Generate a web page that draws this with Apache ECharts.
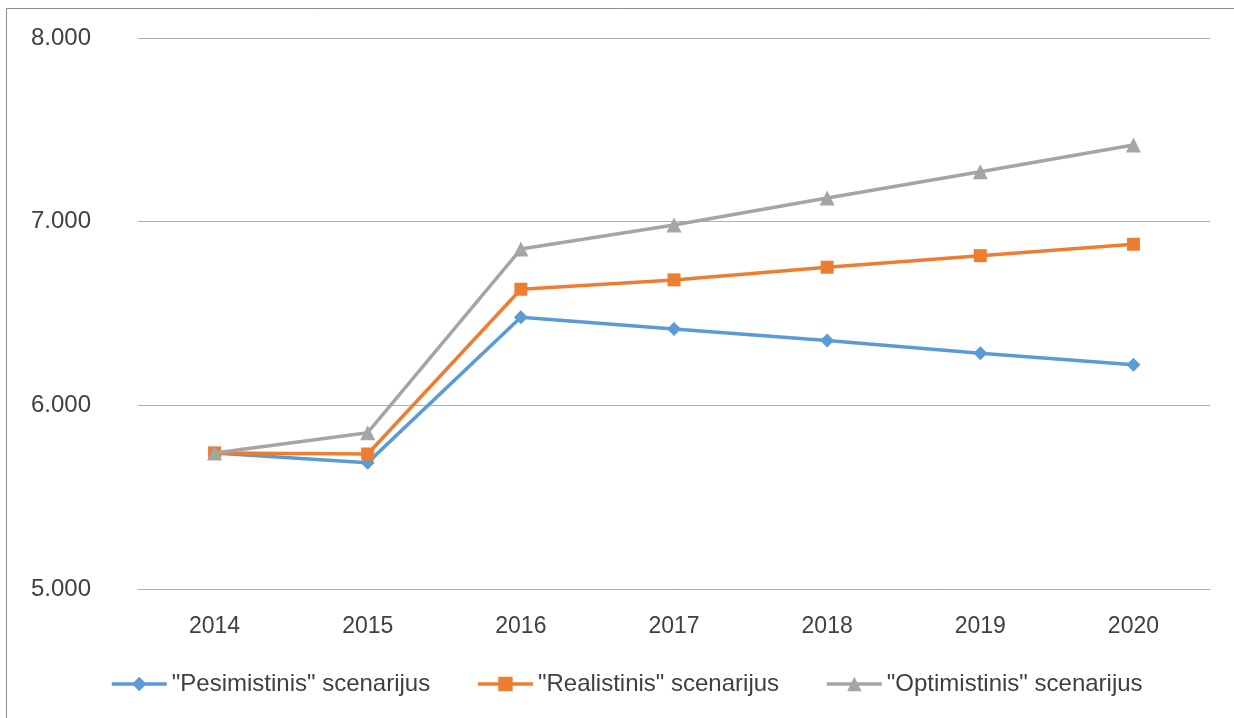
<!DOCTYPE html>
<html>
<head>
<meta charset="utf-8">
<script src="https://cdn.jsdelivr.net/npm/echarts@6/dist/echarts.min.js"></script>
<style>
html,body{margin:0;padding:0;background:#fff;}
#c{width:1234px;height:718px;}
</style>
</head>
<body>
<div id="c"></div>
<script>
const categories = ['2014','2015','2016','2017','2018','2019','2020'];
const pesimistinis = [5741, 5688, 6480, 6415, 6353, 6284, 6221];
const realistinis = [5741, 5735, 6632, 6683, 6752, 6815, 6877];
const optimistinis = [5741, 5851, 6851, 6982, 7129, 7272, 7417];
const seriesNames = ['"Pesimistinis" scenarijus', '"Realistinis" scenarijus', '"Optimistinis" scenarijus'];
const yTicks = { min: 5000, max: 8000, interval: 1000 };

const font = 'Liberation Sans';
const textColor = '#404040';

function fmt(v){ return String(v).replace(/\B(?=(\d{3})+(?!\d))/g, '.'); }

const chart = echarts.init(document.getElementById('c'), null, {renderer:'canvas'});
chart.setOption({
  animation: false,
  backgroundColor: '#fff',
  graphic: [{
    type: 'rect', shape: {x: 6.5, y: 8.5, width: 1250, height: 730},
    style: {fill: 'none', stroke: '#8c8c8c', lineWidth: 1}, silent: true
  }],
  grid: { left: 138, right: 24, top: 38, bottom: 129, containLabel: false },
  xAxis: {
    type: 'category', data: categories, boundaryGap: true,
    axisLine: { show: true, lineStyle: { color: '#b0b0b0', width: 1 } },
    axisTick: { show: false },
    axisLabel: { color: textColor, fontFamily: font, fontSize: 23, margin: 26 }
  },
  yAxis: {
    type: 'value', min: yTicks.min, max: yTicks.max, interval: yTicks.interval,
    axisLine: { show: false }, axisTick: { show: false },
    splitLine: { lineStyle: { color: '#b0b0b0', width: 1 } },
    axisLabel: { color: textColor, fontFamily: font, fontSize: 24, margin: 47, formatter: fmt }
  },
  legend: {
    bottom: 17, left: 105, itemGap: 46, itemWidth: 55, itemHeight: 18,
    textStyle: { color: textColor, fontFamily: font, fontSize: 24 },
    lineStyle: { width: 3.5 },
    data: seriesNames
  },
  series: [
    { name: seriesNames[0], type: 'line', data: pesimistinis, symbol: 'diamond', symbolSize: 14,
      lineStyle: { color: '#5B9BD5', width: 3.5 }, itemStyle: { color: '#5B9BD5' }, z: 2 },
    { name: seriesNames[1], type: 'line', data: realistinis, symbol: 'rect', symbolSize: 13,
      lineStyle: { color: '#ED7D31', width: 3.5 }, itemStyle: { color: '#ED7D31' }, z: 3 },
    { name: seriesNames[2], type: 'line', data: optimistinis, symbol: 'triangle', symbolSize: 15,
      lineStyle: { color: '#A5A5A5', width: 3.5 }, itemStyle: { color: '#A5A5A5' }, z: 4 }
  ]
});
</script>
</body>
</html>
